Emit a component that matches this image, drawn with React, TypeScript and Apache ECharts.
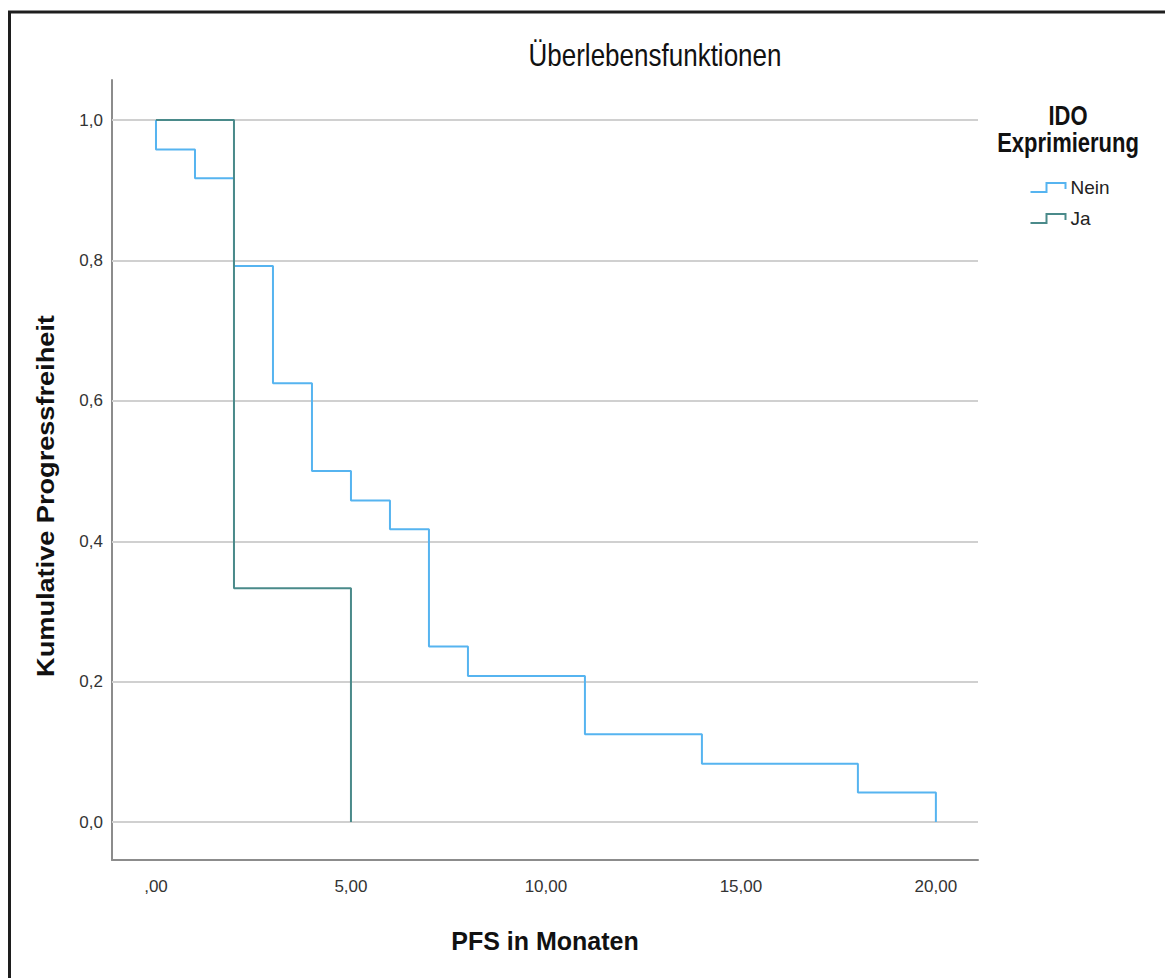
import React, { useEffect, useRef } from "react";
import * as echarts from "echarts";

const neinTimes = [0, 0, 1, 2, 3, 4, 5, 6, 7, 8, 11, 14, 18, 20];
const neinSurvival = [1, 0.958, 0.917, 0.792, 0.625, 0.5, 0.458, 0.417, 0.25, 0.208, 0.125, 0.083, 0.042, 0];
const jaTimes = [0, 2, 5];
const jaSurvival = [1, 0.333, 0];
const xTickValues = [0, 5, 10, 15, 20];
const xTickLabels = [",00", "5,00", "10,00", "15,00", "20,00"];
const yTickValues = [0, 0.2, 0.4, 0.6, 0.8, 1.0];
const yTickLabels = ["0,0", "0,2", "0,4", "0,6", "0,8", "1,0"];
const seriesNames = ["Nein", "Ja"];
const seriesColors = ["#56b4f0", "#4a8a8a"];

const SANS = '"Liberation Sans", Arial, sans-serif';

export default function App() {
  const ref = useRef<HTMLDivElement>(null);
  useEffect(() => {
    if (!ref.current) return;
    const chart = echarts.init(ref.current, null, { renderer: "svg" });
    const nein = neinTimes.map((t, i) => [t, neinSurvival[i]]);
    const ja = jaTimes.map((t, i) => [t, jaSurvival[i]]);
    const icon = "path://M0,9 L16,9 L16,0 L35,0 L35,6";
    chart.setOption({
      animation: false,
      backgroundColor: "#ffffff",
      grid: { left: 112, right: 187, top: 80, bottom: 118, containLabel: false },
      xAxis: {
        type: "value",
        min: -1.128,
        max: 21.08,
        name: "PFS in Monaten",
        nameLocation: "middle",
        nameGap: 68,
        nameTextStyle: { fontFamily: SANS, fontWeight: "bold", fontSize: 25, color: "#111" },
        axisLine: { show: true, onZero: false, lineStyle: { color: "#8c8c8c", width: 2 } },
        axisTick: { show: false },
        splitLine: { show: false },
        axisLabel: {
          customValues: xTickValues,
          formatter: (v: number) => xTickLabels[xTickValues.indexOf(Math.round(v))] ?? "",
          fontFamily: SANS,
          fontSize: 17,
          color: "#333",
          margin: 18,
        },
      },
      yAxis: {
        type: "value",
        min: -0.054,
        max: 1.057,
        axisLine: { show: true, onZero: false, lineStyle: { color: "#8c8c8c", width: 2 } },
        axisTick: { show: false },
        splitLine: { show: false },
        axisLabel: {
          customValues: yTickValues,
          formatter: (v: number) => {
            const idx = yTickValues.findIndex((y) => Math.abs(y - v) < 1e-6);
            return idx >= 0 ? yTickLabels[idx] : "";
          },
          fontFamily: SANS,
          fontSize: 17,
          color: "#333",
          margin: 9,
        },
      },
      legend: {
        data: seriesNames.map((n, i) => ({
          name: n,
          icon,
          itemStyle: { color: "none", borderColor: seriesColors[i], borderWidth: 2 },
        })),
        orient: "vertical",
        left: 1023,
        top: 173,
        itemWidth: 35,
        itemHeight: 9,
        itemGap: 12,
        textStyle: { fontFamily: SANS, fontSize: 19, color: "#222", padding: [0, 0, 0, 0] },
      },
      graphic: [
        {
          type: "rect",
          shape: { x: 9.5, y: 12, width: 3000, height: 3000 },
          style: { fill: "none", stroke: "#1e1e1e", lineWidth: 3 },
          silent: true,
        },
        {
          type: "text",
          x: 655,
          y: 55,
          scaleY: 1.22,
          style: {
            text: "Überlebensfunktionen",
            font: `26px ${SANS}`,
            fill: "#111",
            align: "center",
            verticalAlign: "middle",
          },
        },
        {
          type: "text",
          x: 1068,
          y: 116,
          scaleY: 1.22,
          style: {
            text: "IDO",
            font: `bold 22px ${SANS}`,
            fill: "#111",
            align: "center",
            verticalAlign: "middle",
          },
        },
        {
          type: "text",
          x: 1068,
          y: 143,
          scaleY: 1.22,
          style: {
            text: "Exprimierung",
            font: `bold 22px ${SANS}`,
            fill: "#111",
            align: "center",
            verticalAlign: "middle",
          },
        },
        {
          type: "text",
          x: 46,
          y: 496,
          rotation: Math.PI / 2,
          scaleX: 1.18,
          style: {
            text: "Kumulative Progressfreiheit",
            font: `bold 23px ${SANS}`,
            fill: "#111",
            align: "center",
            verticalAlign: "middle",
          },
        },
      ],
      series: [
        {
          name: seriesNames[0],
          type: "line",
          step: "end",
          data: nein,
          symbol: "none",
          z: 3,
          color: seriesColors[0],
          lineStyle: { color: seriesColors[0], width: 2 },
          markLine: {
            silent: true,
            symbol: "none",
            z: 1,
            label: { show: false },
            lineStyle: { color: "#d0d0d0", width: 2, type: "solid" },
            emphasis: { disabled: true },
            data: yTickValues.map((y) => ({ yAxis: y })),
          },
        },
        {
          name: seriesNames[1],
          type: "line",
          step: "end",
          data: ja,
          symbol: "none",
          z: 4,
          color: seriesColors[1],
          lineStyle: { color: seriesColors[1], width: 2 },
        },
      ],
    });
    return () => chart.dispose();
  }, []);
  return (
    <div
      ref={ref}
      style={{ position: "fixed", left: 0, top: 0, width: 1165, height: 978 }}
    />
  );
}
